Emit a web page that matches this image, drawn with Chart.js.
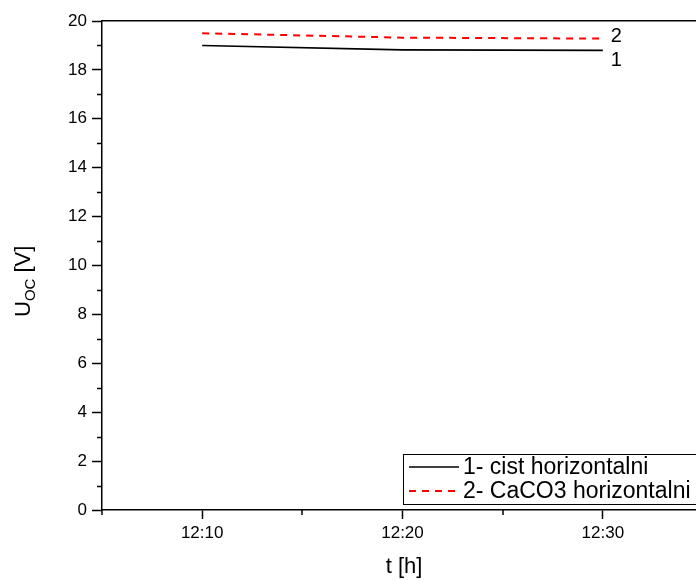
<!DOCTYPE html>
<html>
<head>
<meta charset="utf-8">
<script src="https://cdn.jsdelivr.net/npm/chart.js@4/dist/chart.umd.min.js"></script>
<style>
html,body{margin:0;padding:0;background:#fff;overflow:hidden;}
canvas{display:block;}
</style>
</head>
<body>
<canvas id="c" width="696" height="580"></canvas>
<script>
// minutes after 12:00
const times = [10, 20, 30];
const series1 = [19.0, 18.82, 18.8];   // 1- cist horizontalni
const series2 = [19.5, 19.32, 19.28];  // 2- CaCO3 horizontalni
const seriesNames = ['1- cist horizontalni', '2- CaCO3 horizontalni'];
const endLabels = ['1', '2'];
const xMajorTicks = [10, 20, 30];
const xMinorTicks = [5, 15, 25];
const yMinorTicks = [1, 3, 5, 7, 9, 11, 13, 15, 17, 19];

const FONT = "'Liberation Sans', Arial, sans-serif";

const extras = {
  id: 'extras',
  afterDraw(chart) {
    const ctx = chart.ctx;
    const x = chart.scales.x, y = chart.scales.y;
    const area = chart.chartArea;
    ctx.save();
    // minor ticks
    ctx.strokeStyle = '#000';
    ctx.lineWidth = 1.5;
    ctx.beginPath();
    yMinorTicks.forEach(v => {
      const py = Math.round(y.getPixelForValue(v)) + 0.5;
      ctx.moveTo(area.left - 5, py);
      ctx.lineTo(area.left, py);
    });
    xMinorTicks.forEach(v => {
      const px = Math.round(x.getPixelForValue(v));
      ctx.moveTo(px, area.bottom);
      ctx.lineTo(px, area.bottom + 5);
    });
    ctx.stroke();

    // end labels
    ctx.fillStyle = '#000';
    ctx.font = '20px ' + FONT;
    ctx.textAlign = 'left';
    ctx.textBaseline = 'middle';
    const meta1 = chart.getDatasetMeta(0).data;
    const meta2 = chart.getDatasetMeta(1).data;
    const p1 = meta1[meta1.length - 1], p2 = meta2[meta2.length - 1];
    ctx.fillText(endLabels[1], p2.x + 8, p2.y - 2);
    ctx.fillText(endLabels[0], p1.x + 8, p1.y + 10);

    // x title
    ctx.font = '22px ' + FONT;
    ctx.textAlign = 'center';
    ctx.fillText('t [h]', 404, 567);

    // y title with subscript
    ctx.save();
    ctx.translate(30, 317);
    ctx.rotate(-Math.PI / 2);
    ctx.textAlign = 'left';
    ctx.textBaseline = 'alphabetic';
    ctx.font = '22px ' + FONT;
    let cx = 0;
    ctx.fillText('U', cx, 0);
    cx += ctx.measureText('U').width;
    ctx.font = '15px ' + FONT;
    ctx.fillText('OC', cx, 5);
    cx += ctx.measureText('OC').width;
    ctx.font = '22px ' + FONT;
    ctx.fillText(' [V]', cx, 0);
    ctx.restore();

    // legend
    const bx = 403.5, by = 454.5, bw = 300, bh = 50;
    ctx.strokeStyle = '#000';
    ctx.lineWidth = 1;
    ctx.fillStyle = '#fff';
    ctx.fillRect(bx, by, bw, bh);
    ctx.strokeRect(bx, by, bw, bh);
    const rows = [467, 491];
    chart.data.datasets.forEach((ds, i) => {
      ctx.beginPath();
      ctx.strokeStyle = ds.borderColor;
      ctx.lineWidth = ds.borderWidth;
      ctx.setLineDash(ds.borderDash || []);
      ctx.moveTo(409, rows[i]);
      ctx.lineTo(459, rows[i]);
      ctx.stroke();
      ctx.setLineDash([]);
      ctx.fillStyle = '#000';
      ctx.font = '23px ' + FONT;
      ctx.textAlign = 'left';
      ctx.textBaseline = 'middle';
      ctx.fillText(seriesNames[i], 463, rows[i] + 1);
    });
    ctx.restore();
  }
};

new Chart(document.getElementById('c'), {
  type: 'line',
  data: {
    datasets: [
      {
        label: seriesNames[0],
        data: times.map((t, i) => ({x: t, y: series1[i]})),
        borderColor: '#000000',
        borderWidth: 1.6,
        pointRadius: 0,
        fill: false,
        tension: 0
      },
      {
        label: seriesNames[1],
        data: times.map((t, i) => ({x: t, y: series2[i]})),
        borderColor: '#ff0000',
        borderWidth: 2,
        borderDash: [7, 6],
        pointRadius: 0,
        fill: false,
        tension: 0
      }
    ]
  },
  options: {
    responsive: false,
    devicePixelRatio: 1,
    animation: false,
    layout: {padding: 0},
    plugins: {legend: {display: false}, tooltip: {enabled: false}},
    scales: {
      x: {
        type: 'linear',
        position: 'bottom',
        min: 5,
        max: 34.65,
        afterBuildTicks: s => { s.ticks = xMajorTicks.map(v => ({value: v})); },
        afterFit: s => { s.height = 70; },
        ticks: {
          color: '#000',
          font: {family: FONT, size: 17},
          padding: 4,
          maxRotation: 0,
          callback: v => '12:' + String(v).padStart(2, '0')
        },
        grid: {drawOnChartArea: false, drawTicks: true, tickLength: 9, tickColor: '#000', tickWidth: 1.5},
        border: {display: true, color: '#000', width: 1.5}
      },
      xTop: {
        type: 'linear',
        position: 'top',
        min: 5,
        max: 34.65,
        afterFit: s => { s.height = 21; },
        ticks: {display: false},
        grid: {display: false},
        border: {display: true, color: '#000', width: 1.5}
      },
      y: {
        type: 'linear',
        min: 0,
        max: 20,
        afterFit: s => { s.width = 102; },
        ticks: {
          stepSize: 2,
          color: '#000',
          font: {family: FONT, size: 17},
          padding: 5
        },
        grid: {drawOnChartArea: false, drawTicks: true, tickLength: 10, tickColor: '#000', tickWidth: 1.5},
        border: {display: true, color: '#000', width: 1.5}
      }
    }
  },
  plugins: [extras]
});
</script>
</body>
</html>
